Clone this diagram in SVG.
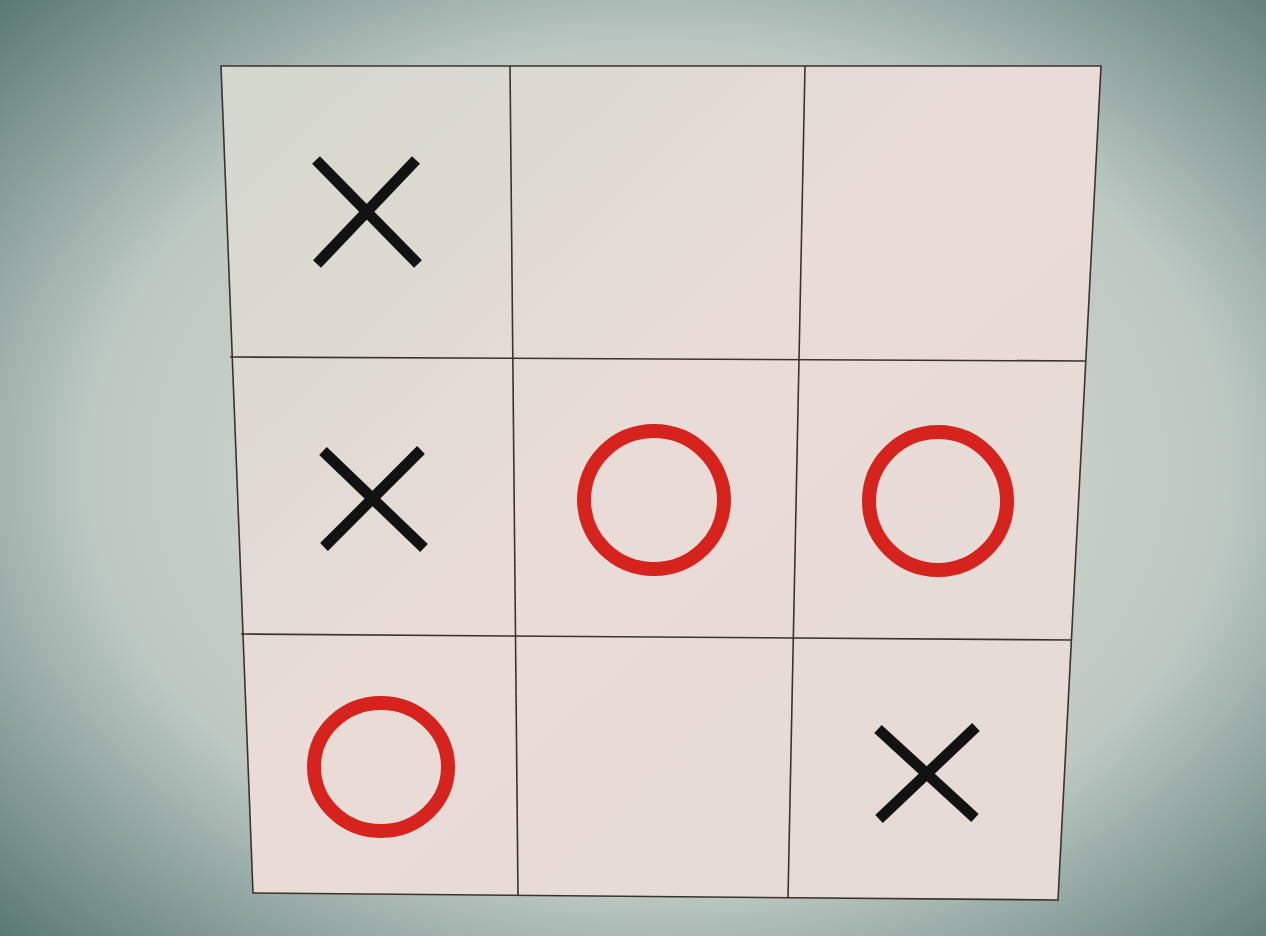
<svg xmlns="http://www.w3.org/2000/svg" width="1266" height="936" viewBox="0 0 1266 936">
<defs>
<radialGradient id="bg" cx="0.52" cy="0.5" r="0.75">
<stop offset="0" stop-color="#dcdfd9"/>
<stop offset="0.6" stop-color="#bdc8c3"/>
<stop offset="1" stop-color="#4f706d"/>
</radialGradient>
<linearGradient id="board" x1="0" y1="0" x2="1" y2="1">
<stop offset="0" stop-color="#d2d7cc"/>
<stop offset="0.45" stop-color="#e9dcd7"/>
<stop offset="1" stop-color="#e5dad6"/>
</linearGradient>
<style>
.grid{fill:none;stroke:#3b332c;stroke-width:1.6}
.x{stroke:#121212;stroke-width:11;stroke-linecap:butt;fill:none}
.o{fill:none;stroke:#d6231d;stroke-width:14}
</style>
</defs>
<rect width="1266" height="936" fill="url(#bg)"/>
<polygon points="221,66 1101,66 1058,900 253,893" fill="url(#board)" stroke="#3b332c" stroke-width="1.6"/>
<g id="grid-lines">
<line class="grid" x1="510" y1="66" x2="518" y2="896"/>
<line class="grid" x1="805" y1="66" x2="788" y2="898"/>
<line class="grid" x1="230" y1="357" x2="1086" y2="361"/>
<line class="grid" x1="241" y1="634" x2="1072" y2="640"/>
</g>
<g id="marks">
<path class="x" d="M316,160 L418,264 M416,160 L317,264"/>
<path class="x" d="M323,451 L424,548 M421,450 L324,547"/>
<path class="x" d="M878,729 L975,818 M976,727 L879,819"/>
<ellipse class="o" cx="654" cy="500" rx="70" ry="69"/>
<ellipse class="o" cx="938" cy="501" rx="69" ry="69"/>
<ellipse class="o" cx="381" cy="767" rx="67" ry="64"/>
</g>
</svg>
